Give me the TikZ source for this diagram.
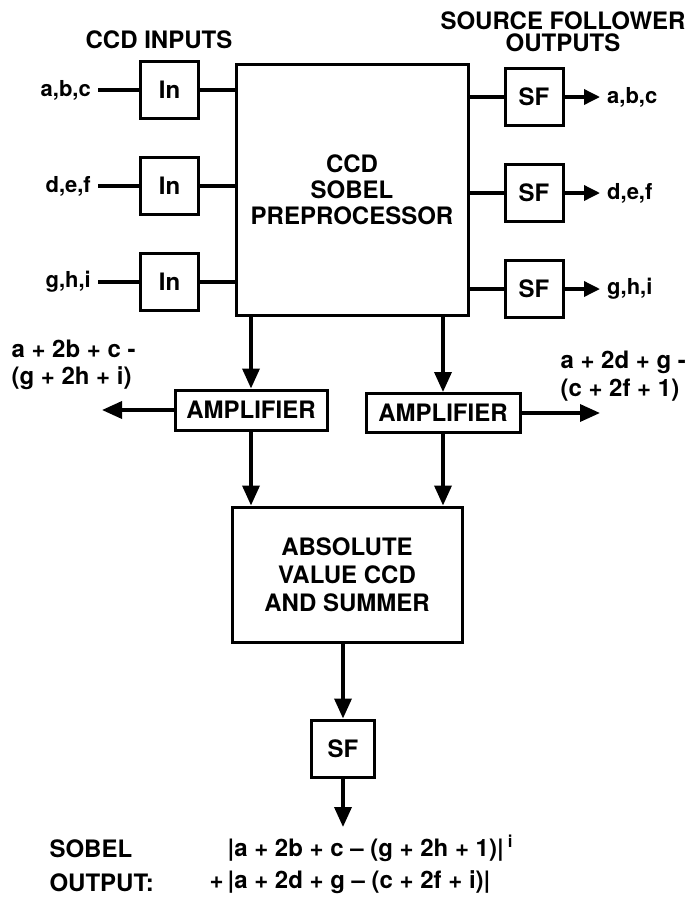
\documentclass[tikz,border=0pt]{standalone}
\usepackage{fontspec}
\setmainfont{TeX Gyre Heros}
\usepackage{tikz}
\usetikzlibrary{arrows.meta, calc, positioning}

\begin{document}
\begin{tikzpicture}[x=1pt, y=-1pt,
        every node/.style={font=\fontsize{24}{26}\selectfont\bfseries},
        box/.style={draw, line width=3pt, minimum width=58pt,
                     minimum height=57pt, inner sep=2pt},
        lbl/.style={font=\fontsize{22}{24}\selectfont\bfseries, inner sep=7pt},
        ln/.style={line width=3.5pt},
        arr/.style={line width=3.5pt, -{Triangle[length=20pt,width=17pt]}},
        sarr/.style={line width=3.5pt, -{Triangle[length=16pt,width=15pt]}}
      ]
      \useasboundingbox (0,0) rectangle (688,903);
      % headings
      \node (hin) at (159,40) {CCD INPUTS};
      \node[align=center, font=\fontsize{24}{22}\selectfont\bfseries] (hout) at (563,32)
        {SOURCE FOLLOWER\\OUTPUTS};
      % preprocessor
      \node[box, minimum width=232pt, minimum height=251pt, align=center] (pre) at (352,190)
        {CCD\\SOBEL\\PREPROCESSOR};
      % inputs and source followers
      \foreach \y/\t [count=\i] in {90/{a,b,c}, 186/{d,e,f}, 282/{g,h,i}} {
        \node[box] (in\i) at (169.5,\y) {In};
        \node[lbl, anchor=east] (x\i) at (98,\y) {\t};
        \draw[ln] (x\i) -- (in\i);
        \draw[ln] (in\i.east) -- (in\i.east -| pre.west);
      }
      \foreach \y/\t [count=\i] in {97/{a,b,c}, 193/{d,e,f}, 289/{g,h,i}} {
        \node[box] (sf\i) at (534,\y) {SF};
        \node[lbl, anchor=west] (y\i) at (600,\y) {\t};
        \draw[ln] (sf\i.west -| pre.east) -- (sf\i.west);
        \draw[sarr] (sf\i) -- (y\i);
      }
      % amplifiers
      \node[box, minimum width=152pt, minimum height=40pt] (ampl) at (251,410) {AMPLIFIER};
      \node[box, minimum width=154pt, minimum height=39pt] (ampr) at (443,413) {AMPLIFIER};
      \draw[arr] (pre.south -| ampl) -- (ampl);
      \draw[arr] (pre.south -| ampr) -- (ampr);
      \coordinate (endl) at (102,410);
      \coordinate (endr) at (600,413);
      \draw[arr] (ampl) -- (endl);
      \draw[arr] (ampr) -- (endr);
      \node[align=left, anchor=west, font=\fontsize{24}{27}\selectfont\bfseries] (diffl) at (8,365)
        {a + 2b + c -\\(g + 2h + i)};
      \node[align=left, anchor=west, font=\fontsize{24}{28}\selectfont\bfseries] (diffr) at (557,376)
        {a + 2d + g -\\(c + 2f + 1)};
      % absolute value and summer
      \node[box, minimum width=230pt, minimum height=135pt, align=center,
            font=\fontsize{24}{28}\selectfont\bfseries] (abs) at (347,574.5)
        {ABSOLUTE\\VALUE CCD\\AND SUMMER};
      \draw[arr] (ampl) -- (abs.north -| ampl);
      \draw[arr] (ampr) -- (abs.north -| ampr);
      \node[box, minimum width=63pt] (sfo) at (343,748.5) {SF};
      \draw[arr] (abs.south -| sfo) -- (sfo);
      \coordinate (endo) at (343,827);
      \draw[arr] (sfo) -- (endo);
      % output
      \node[align=left, anchor=west, font=\fontsize{24}{34}\selectfont\bfseries] (sob) at (46,866)
        {SOBEL\\OUTPUT:};
      \node[anchor=west] (f1) at (224,848) {|a + 2b + c -- (g + 2h + 1)|\,\textsuperscript{i}};
      \node[anchor=west] (f2) at (206,882) {+\,|a + 2d + g -- (c + 2f + i)|};
    \end{tikzpicture}
\end{document}
